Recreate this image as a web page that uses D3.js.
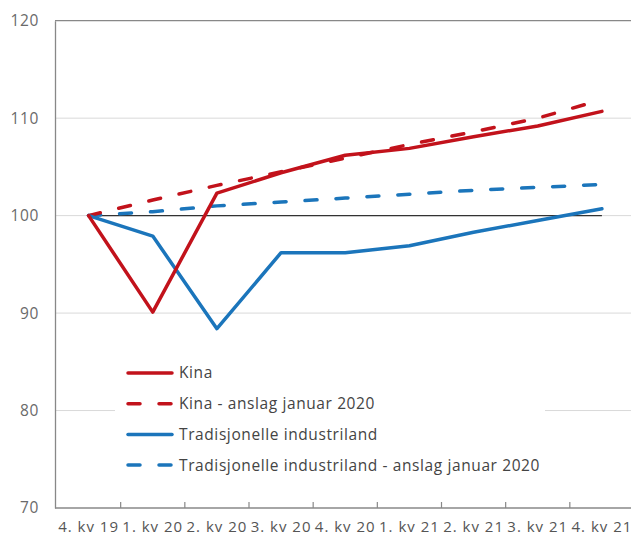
<!DOCTYPE html>
<html><head><meta charset="utf-8">
<script src="https://cdn.jsdelivr.net/npm/d3@7"></script>
<style>
html,body{margin:0;padding:0;background:#fff;}
svg{display:block;font-family:"Open Sans",sans-serif;}
</style></head>
<body><svg id="c" width="631" height="540"></svg>
<script>
const categories = ["4. kv 19","1. kv 20","2. kv 20","3. kv 20","4. kv 20","1. kv 21","2. kv 21","3. kv 21","4. kv 21"];
const kina = [100, 90.1, 102.3, 104.4, 106.2, 106.9, 108.1, 109.2, 110.7];
const kinaAnslag = [100, 101.6, 103.1, 104.5, 105.9, 107.3, 108.6, 110.0, 111.9];
const industri = [100, 97.9, 88.4, 96.2, 96.2, 96.9, 98.3, 99.5, 100.7];
const industriAnslag = [100, 100.4, 101.0, 101.4, 101.8, 102.2, 102.6, 102.9, 103.2];
const baseline = [100, 100, 100, 100, 100, 100, 100, 100, 100];
const yTicks = [70, 80, 90, 100, 110, 120];
const seriesNames = ["Kina","Kina - anslag januar 2020","Tradisjonelle industriland","Tradisjonelle industriland - anslag januar 2020"];

const RED = "#c2121b", BLUE = "#1b75bb";
const svg = d3.select("#c");
const mLeft = 55, mRight = 634, mTop = 20.7, mBottom = 508;
const x = d3.scaleBand().domain(categories).range([56.5, mRight]);
const y = d3.scaleLinear().domain([70, 120]).range([mBottom, mTop]);
const cx = d => x(d) + x.bandwidth() / 2;

// gridlines
svg.append("g").selectAll("line").data(yTicks.filter(t => t > 70 && t < 120)).join("line")
  .attr("x1", mLeft).attr("x2", 631).attr("y1", d => y(d)).attr("y2", d => y(d))
  .attr("stroke", "#d9d9d9").attr("stroke-width", 1);
// top border
svg.append("line").attr("x1", mLeft).attr("x2", 631).attr("y1", y(120)).attr("y2", y(120))
  .attr("stroke", "#888").attr("stroke-width", 1.3);

// y axis
const yAxis = svg.append("g").attr("transform", `translate(${mLeft},0)`)
  .call(d3.axisLeft(y).tickValues(yTicks).tickSize(0).tickPadding(16));
yAxis.select(".domain").attr("stroke", "#888").attr("stroke-width", 1.3);
yAxis.selectAll("text").attr("font-size", 15.5).attr("letter-spacing", 0.6)
  .attr("fill", "#6a6a6a").attr("font-family", "Open Sans");

// x axis
const xAxis = svg.append("g").attr("transform", `translate(0,${mBottom})`)
  .call(d3.axisBottom(x).tickSize(0).tickPadding(13));
xAxis.select(".domain").attr("stroke", "#888").attr("stroke-width", 1.3).attr("d", `M${mLeft},0H631`);
xAxis.selectAll("text").attr("font-size", 15).attr("letter-spacing", 1)
  .attr("fill", "#555").attr("font-family", "Open Sans");
// tick marks between categories
svg.append("g").selectAll("line").data(categories.slice(1)).join("line")
  .attr("x1", d => x(d)).attr("x2", d => x(d))
  .attr("y1", mBottom).attr("y2", mBottom - 6)
  .attr("stroke", "#888").attr("stroke-width", 1.2);

const line = d3.line().x((d, i) => cx(categories[i])).y(d => y(d));

// baseline 100
svg.append("path").datum(baseline).attr("d", line).attr("fill", "none")
  .attr("stroke", "#333").attr("stroke-width", 1.3);

const series = [
  {data: industriAnslag, color: BLUE, dash: "12,19"},
  {data: kinaAnslag, color: RED, dash: "12,19"},
  {data: industri, color: BLUE, dash: null},
  {data: kina, color: RED, dash: null}
];
series.forEach(s => {
  svg.append("path").datum(s.data).attr("d", line).attr("fill", "none")
    .attr("stroke", s.color).attr("stroke-width", 3.5)
    .attr("stroke-linejoin", "round").attr("stroke-linecap", "round")
    .attr("stroke-dasharray", s.dash);
});

// legend
const legend = svg.append("g");
legend.append("rect").attr("x", 115).attr("y", 358).attr("width", 430).attr("height", 122).attr("fill", "#fff");
const legItems = [
  {name: seriesNames[0], color: RED, dash: null},
  {name: seriesNames[1], color: RED, dash: "12,19"},
  {name: seriesNames[2], color: BLUE, dash: null},
  {name: seriesNames[3], color: BLUE, dash: "12,19"}
];
legItems.forEach((it, i) => {
  const ly = 373 + i * 30.7;
  legend.append("line").attr("x1", 128).attr("x2", 172).attr("y1", ly).attr("y2", ly)
    .attr("stroke", it.color).attr("stroke-width", 3.5).attr("stroke-linecap", "round")
    .attr("stroke-dasharray", it.dash);
  legend.append("text").attr("x", 179).attr("y", ly).attr("dy", "0.35em")
    .attr("font-size", 15.5).attr("letter-spacing", 0.6)
    .attr("fill", "#444").attr("font-family", "Open Sans").text(it.name);
});
</script></body></html>
